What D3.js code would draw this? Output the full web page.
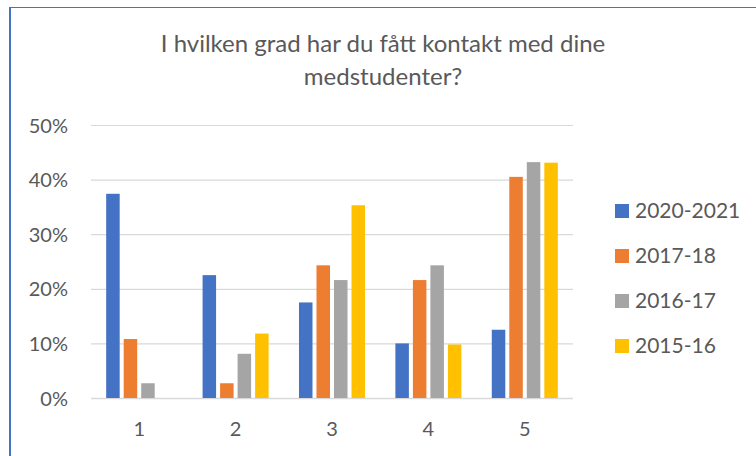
<!DOCTYPE html>
<html>
<head>
<meta charset="utf-8">
<script src="https://cdn.jsdelivr.net/npm/d3@7"></script>
<style>
  body { margin: 0; background: #fff; }
  svg text { font-family: Lato, "Open Sans", sans-serif; fill: #595959; }
</style>
</head>
<body>
<div id="chart"></div>
<script>

// categories and series
var categories = ["1", "2", "3", "4", "5"];
var seriesNames = ["2020-2021", "2017-18", "2016-17", "2015-16"];
var s2020_2021 = [0.374, 0.225, 0.175, 0.100, 0.125];
var s2017_18   = [0.108, 0.027, 0.243, 0.216, 0.405];
var s2016_17   = [0.027, 0.081, 0.216, 0.243, 0.432];
var s2015_16   = [0.000, 0.118, 0.353, 0.098, 0.431];
var yTicks = [0, 0.1, 0.2, 0.3, 0.4, 0.5];
var titleLines = ["I hvilken grad har du fått kontakt med dine", "medstudenter?"];

var colors = ["#4472C4", "#ED7D31", "#A5A5A5", "#FFC000"];
var allSeries = [s2020_2021, s2017_18, s2016_17, s2015_16];

var width = 756, height = 456;
var plot = {left: 91, right: 573, top: 125, bottom: 398};

var svg = d3.select("#chart").append("svg")
    .attr("width", width)
    .attr("height", height);

// chart frame (only left and top edge are visible in the crop)
svg.append("line")
    .attr("x1", 10).attr("x2", 10).attr("y1", 7).attr("y2", height)
    .style("stroke", "#4472C4").style("stroke-width", 2);
svg.append("line")
    .attr("x1", 9).attr("x2", width).attr("y1", 7.5).attr("y2", 7.5)
    .style("stroke", "#4472C4").style("stroke-width", 1);

// title
svg.append("g").selectAll("text")
    .data(titleLines)
    .enter().append("text")
      .attr("x", 383)
      .attr("y", function(d, i) { return 52 + i * 33; })
      .attr("text-anchor", "middle")
      .style("font-size", "24px")
      .text(function(d) { return d; });

// scales
var x0 = d3.scaleBand()
    .domain(categories)
    .range([plot.left, plot.right])
    .paddingInner(0.315)
    .paddingOuter(0.1575);

var x1 = d3.scaleBand()
    .domain(seriesNames)
    .range([0, x0.bandwidth()])
    .paddingInner(0.229);

var y = d3.scaleLinear()
    .domain([0, 0.5])
    .range([plot.bottom, plot.top]);

// gridlines
var yAxis = d3.axisLeft(y)
    .tickValues(yTicks)
    .tickFormat(d3.format(".0%"))
    .tickSize(-(plot.right - plot.left))
    .tickPadding(23);

var gy = svg.append("g")
    .attr("transform", "translate(" + plot.left + ",0)")
    .call(yAxis);
gy.select(".domain").remove();
gy.selectAll(".tick line")
    .style("stroke", "#D9D9D9")
    .style("stroke-width", function(d) { return d === 0 ? 1.5 : 1.2; });
gy.selectAll(".tick text")
    .style("font-size", "20px")
    .attr("dy", "0.35em");

// x axis labels
var xAxis = d3.axisBottom(x0).tickSize(0).tickPadding(24);
var gx = svg.append("g")
    .attr("transform", "translate(0," + plot.bottom + ")")
    .call(xAxis);
gx.select(".domain").remove();
gx.selectAll(".tick text")
    .style("font-size", "20px");

// bars
var data = categories.map(function(c, i) {
  return {cat: c, values: seriesNames.map(function(s, j) {
    return {name: s, value: allSeries[j][i], color: colors[j]};
  })};
});

svg.append("g").selectAll("g")
    .data(data)
    .enter().append("g")
      .attr("transform", function(d) { return "translate(" + x0(d.cat) + ",0)"; })
    .selectAll("rect")
    .data(function(d) { return d.values; })
    .enter().append("rect")
      .attr("x", function(d) { return x1(d.name); })
      .attr("y", function(d) { return y(d.value); })
      .attr("width", x1.bandwidth())
      .attr("height", function(d) { return y(0) - y(d.value); })
      .style("fill", function(d) { return d.color; });

// legend
var legend = svg.append("g").selectAll("g")
    .data(seriesNames)
    .enter().append("g")
      .attr("transform", function(d, i) { return "translate(615," + (211 + i * 45) + ")"; });

legend.append("rect")
    .attr("x", 0).attr("y", -7)
    .attr("width", 14).attr("height", 14)
    .style("fill", function(d, i) { return colors[i]; });

legend.append("text")
    .attr("x", 20)
    .attr("dy", "0.35em")
    .style("font-size", "21px")
    .text(function(d) { return d; });

</script>
</body>
</html>
